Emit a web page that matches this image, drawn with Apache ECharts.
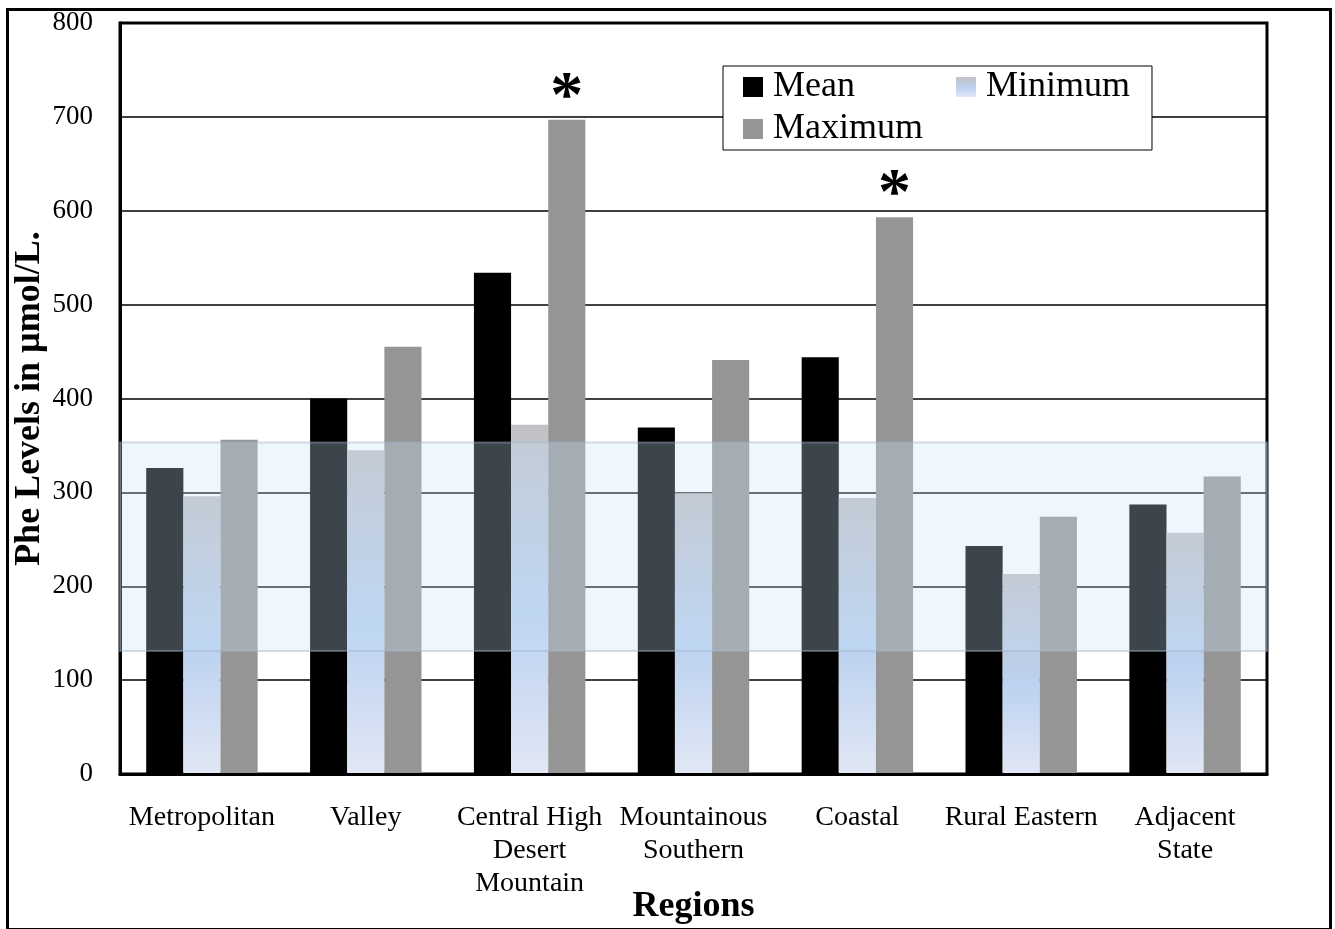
<!DOCTYPE html>
<html><head><meta charset="utf-8">
<script src="https://cdn.jsdelivr.net/npm/echarts@6/dist/echarts.min.js"></script>
<style>html,body{margin:0;padding:0;background:#fff}#c{width:1335px;height:929px}</style>
</head><body><div id="c"></div>
<script>
const categories = ['Metropolitan', 'Valley', 'Central High\nDesert\nMountain', 'Mountainous\nSouthern', 'Coastal', 'Rural Eastern', 'Adjacent\nState'];
const meanValues = [326, 400, 534, 369, 444, 243, 287];
const minValues = [296, 345, 372, 299, 294, 213, 257];
const maxValues = [356, 455, 697, 441, 593, 274, 317];
const significance = ['', '', '*', '', '*', '', ''];
const targetRange = [131, 353];
const yMin = 0, yMax = 800, yInterval = 100;
const seriesNames = ['Mean', 'Minimum', 'Maximum'];

const SERIF = "'Liberation Serif','Times New Roman',serif";
const chart = echarts.init(document.getElementById('c'), null, {renderer: 'canvas'});

const minGradient = new echarts.graphic.LinearGradient(0, 0, 0, 1, [
  {offset: 0, color: '#c2c2c4'},
  {offset: 0.55, color: '#bcd2f0'},
  {offset: 1, color: '#e1e7f5'}
]);

const legendText = {fontFamily: SERIF, fontSize: 36, color: '#000', lineHeight: 36, padding: [0, 0, 0, 5]};

const option = {
  backgroundColor: '#ffffff',
  animation: false,
  graphic: [{
    type: 'rect', left: 5, top: 7, silent: true, z: -1,
    shape: {width: 1323, height: 920},
    style: {fill: 'none', stroke: '#000', lineWidth: 3}
  }],
  grid: {left: 120, right: 68, top: 23, bottom: 155, show: true, borderColor: '#000', borderWidth: 3,
         backgroundColor: 'transparent', outerBoundsMode: 'none', containLabel: false},
  legend: [{
    data: ['Mean', 'Maximum'],
    orient: 'vertical',
    left: 723, top: 66,
    padding: [3, 229, 3, 20],
    itemGap: 6,
    itemWidth: 20, itemHeight: 20,
    icon: 'rect',
    borderColor: '#000', borderWidth: 1,
    backgroundColor: '#fff',
    textStyle: legendText,
    z: 20
  }, {
    data: ['Minimum'],
    orient: 'vertical',
    left: 956, top: 66,
    padding: [3, 0, 0, 0],
    itemWidth: 20, itemHeight: 20,
    icon: 'rect',
    textStyle: legendText,
    z: 21
  }],
  xAxis: {
    type: 'category',
    data: categories,
    name: 'Regions',
    nameLocation: 'middle',
    nameGap: 115,
    nameMoveOverlap: false,
    nameTextStyle: {fontFamily: SERIF, fontSize: 36, fontWeight: 'bold', color: '#000', lineHeight: 36},
    axisLine: {show: true, lineStyle: {color: '#000', width: 3}},
    axisTick: {show: false},
    axisLabel: {interval: 0, hideOverlap: false, margin: 27, fontFamily: SERIF, fontSize: 28, color: '#000', lineHeight: 33},
    z: 3
  },
  yAxis: {
    type: 'value',
    min: yMin, max: yMax, interval: yInterval,
    name: 'Phe Levels in µmol/L.',
    nameLocation: 'middle',
    nameGap: 72,
    nameMoveOverlap: false,
    nameTextStyle: {fontFamily: SERIF, fontSize: 36, fontWeight: 'bold', color: '#000', lineHeight: 36},
    axisLine: {show: true, lineStyle: {color: '#000', width: 3}},
    axisTick: {show: false},
    axisLabel: {margin: 27, fontFamily: SERIF, fontSize: 27, color: '#000'},
    splitLine: {show: true, lineStyle: {color: '#000', width: 1.5}}
  },
  series: [{
    name: seriesNames[0], type: 'bar', data: meanValues,
    barGap: '0%', barCategoryGap: '32%',
    itemStyle: {color: '#000000'}
  }, {
    name: seriesNames[1], type: 'bar', data: minValues,
    itemStyle: {color: minGradient}
  }, {
    name: seriesNames[2], type: 'bar', data: maxValues,
    itemStyle: {color: '#959595'},
    label: {
      show: true, position: 'top', distance: -12,
      formatter: p => significance[p.dataIndex],
      fontFamily: SERIF, fontSize: 66, fontWeight: 'bold', color: '#000', lineHeight: 66
    }
  }, {
    name: 'Target range', type: 'line', data: [], z: 5, silent: true,
    markArea: {
      z: 10,
      silent: true,
      label: {show: false},
      itemStyle: {color: 'rgba(199,225,251,0.3)', borderColor: 'rgba(160,180,200,0.45)', borderWidth: 2},
      data: [[{yAxis: targetRange[0]}, {yAxis: targetRange[1]}]]
    }
  }]
};
chart.setOption(option);
</script></body></html>
